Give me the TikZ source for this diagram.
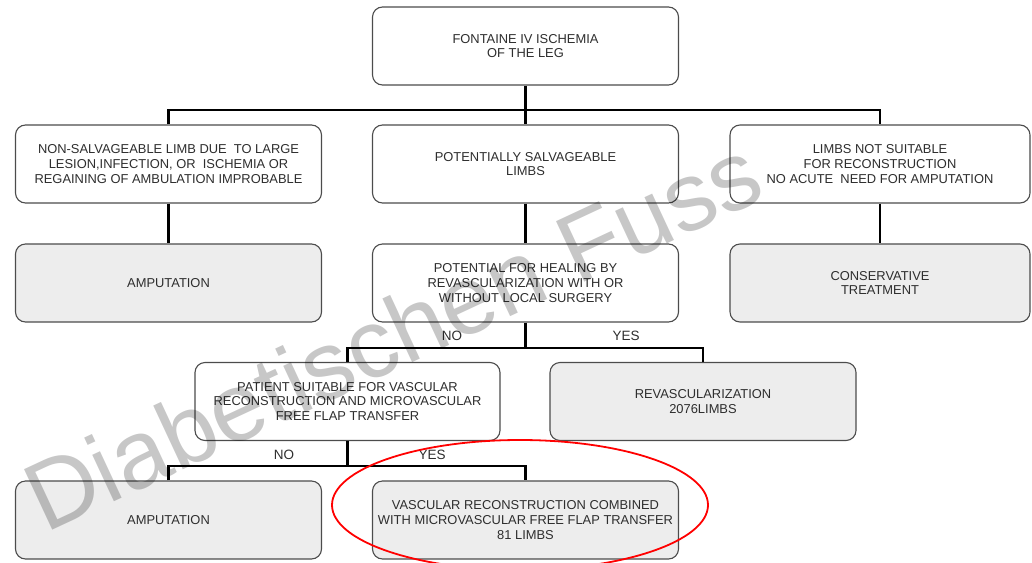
\documentclass[tikz,border=0pt]{standalone}
\usepackage{fontspec}
\setmainfont{Liberation Sans}
\begin{document}
\begin{tikzpicture}[x=1pt,y=-1pt,
  box/.style={draw=black!70, line width=1.1pt, rounded corners=10pt, fill=white,
    minimum width=306pt, minimum height=78pt, align=center,
    font=\fontsize{12.9}{14.8}\selectfont, text=black!82, inner sep=2pt},
  gbox/.style={box, fill=black!7},
  conn/.style={line width=2.5pt, black},
  lbl/.style={font=\fontsize{13.5}{13.5}\selectfont, text=black!82, inner sep=1pt}]
\useasboundingbox (0,0) rectangle (1032,562);

\node[box] (top) at (525.5,46) {FONTAINE IV ISCHEMIA\\OF THE LEG};

\node[box] (nsl) at (168.5,164) {NON-SALVAGEABLE LIMB DUE\ \ TO LARGE\\LESION,INFECTION, OR\ \ ISCHEMIA OR\\REGAINING OF AMBULATION IMPROBABLE};
\node[box] (psl) at (525.5,164) {POTENTIALLY SALVAGEABLE\\LIMBS};
\node[box, minimum width=300pt] (nsr) at (880,164) {LIMBS NOT SUITABLE\\FOR RECONSTRUCTION\\NO ACUTE\ \ NEED FOR AMPUTATION};

\node[gbox] (amp1) at (168.5,283) {AMPUTATION};
\node[box] (phl) at (525.5,283) {POTENTIAL FOR HEALING BY\\REVASCULARIZATION WITH OR\\WITHOUT LOCAL SURGERY};
\node[gbox, minimum width=300pt] (cons) at (880,283) {CONSERVATIVE\\TREATMENT};

\node[box, minimum width=305pt] (pat) at (347.5,401.5) {PATIENT SUITABLE FOR VASCULAR\\RECONSTRUCTION AND MICROVASCULAR\\FREE FLAP TRANSFER};
\node[gbox] (rev) at (703,401.5) {REVASCULARIZATION\\2076LIMBS};

\node[gbox] (amp2) at (168.5,520) {AMPUTATION};
\node[gbox] (vasc) at (525.5,520) {VASCULAR RECONSTRUCTION COMBINED\\WITH MICROVASCULAR FREE FLAP TRANSFER\\81 LIMBS};

\coordinate (bus1) at (525.5,110);
\draw[conn] (top.south) -- (bus1);
\draw[conn] (nsl.north) -- (nsl.north |- bus1) -- (nsr.north |- bus1) -- (nsr.north);
\draw[conn] (bus1) -- (psl.north);

\draw[conn] (nsl.south) -- (amp1.north);
\draw[conn] (psl.south) -- (phl.north);
\draw[conn] (nsr.south) -- (cons.north);

\coordinate (bus2) at (525.5,348);
\draw[conn] (phl.south) -- (bus2);
\draw[conn] (pat.north) -- (pat.north |- bus2) -- (rev.north |- bus2) -- (rev.north);
\node[lbl] (no1) at (452,336) {NO};
\node[lbl] (yes1) at (626,336) {YES};

\coordinate (bus3) at (347.5,466);
\draw[conn] (pat.south) -- (bus3);
\draw[conn] (amp2.north) -- (amp2.north |- bus3) -- (vasc.north |- bus3) -- (vasc.north);
\node[lbl] (no2) at (284,455) {NO};
\node[lbl] (yes2) at (432,455) {YES};

\draw[red, line width=1.8pt] (520,505) ellipse [x radius=188, y radius=65];

\node[rotate=25, anchor=base west, text=black, opacity=0.22, inner sep=0pt,
  font=\fontsize{97}{97}\selectfont] (wm) at (45,534) {Diabetischen Fuss};
\end{tikzpicture}
\end{document}
